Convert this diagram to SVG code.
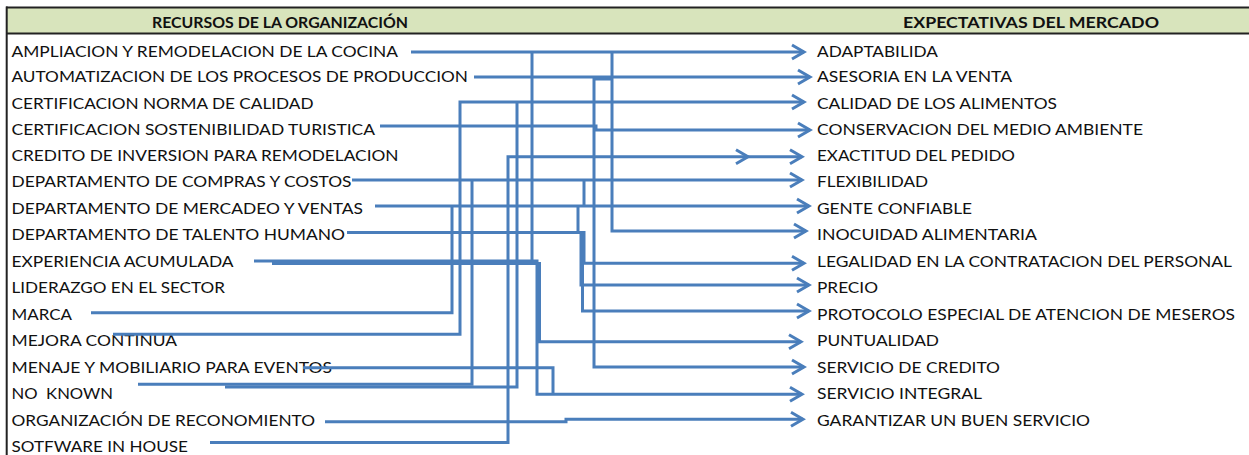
<svg xmlns="http://www.w3.org/2000/svg" width="1249" height="455" viewBox="0 0 1249 455">
  <defs>
    <style>
      .lbl { font-family: Lato, "Open Sans", "Liberation Sans", sans-serif; font-size: 16px; fill: #111; }
      .hdr { font-family: Lato, "Open Sans", "Liberation Sans", sans-serif; font-size: 16px; font-weight: bold; fill: #111; }
      .ln  { fill: none; stroke: #4A7EBB; stroke-width: 3; stroke-linejoin: miter; stroke-linecap: butt; }
      .to  { marker-end: url(#arr); }
    </style>
    <marker id="arr" markerUnits="userSpaceOnUse" markerWidth="24" markerHeight="24" viewBox="-18 -12 24 24" refX="0" refY="0" orient="auto" overflow="visible">
      <path d="M-12,-7 L0,0 L-12,7" fill="none" stroke="#4A7EBB" stroke-width="3"/>
    </marker>
  </defs>

  <rect width="1249" height="455" fill="#fff"/>

  <!-- header band -->
  <g id="header">
    <rect x="6.5" y="7.5" width="1243" height="26" fill="#D8E4BC"/>
    <line x1="6" y1="7.5" x2="1249" y2="7.5" stroke="#222" stroke-width="2"/>
    <line x1="6" y1="33.5" x2="1249" y2="33.5" stroke="#222" stroke-width="2"/>
    <line x1="6.7" y1="6.5" x2="6.7" y2="455" stroke="#222" stroke-width="2"/>
    <text class="hdr" x="152" y="28.3" textLength="256" lengthAdjust="spacingAndGlyphs">RECURSOS DE LA ORGANIZACIÓN</text>
    <text class="hdr" x="903" y="28.3" textLength="256" lengthAdjust="spacingAndGlyphs">EXPECTATIVAS DEL MERCADO</text>
  </g>

  <!-- organisation resources (left column) -->
  <g id="r-ampliacion"><text class="lbl" x="11.5" y="56.5" textLength="386.5" lengthAdjust="spacingAndGlyphs">AMPLIACION Y REMODELACION DE LA COCINA</text></g>
  <g id="r-automatizacion"><text class="lbl" x="11.5" y="82.3" textLength="456.5" lengthAdjust="spacingAndGlyphs">AUTOMATIZACION DE LOS PROCESOS DE PRODUCCION</text></g>
  <g id="r-cert-calidad"><text class="lbl" x="11.5" y="108.6" textLength="302" lengthAdjust="spacingAndGlyphs">CERTIFICACION NORMA DE CALIDAD</text></g>
  <g id="r-cert-sostenibilidad"><text class="lbl" x="11.5" y="135" textLength="363.5" lengthAdjust="spacingAndGlyphs">CERTIFICACION SOSTENIBILIDAD TURISTICA</text></g>
  <g id="r-credito"><text class="lbl" x="11.5" y="161.3" textLength="387" lengthAdjust="spacingAndGlyphs">CREDITO DE INVERSION PARA REMODELACION</text></g>
  <g id="r-compras"><text class="lbl" x="11.5" y="187.2" textLength="340" lengthAdjust="spacingAndGlyphs">DEPARTAMENTO DE COMPRAS Y COSTOS</text></g>
  <g id="r-mercadeo"><text class="lbl" x="11.5" y="213.6" textLength="351.5" lengthAdjust="spacingAndGlyphs">DEPARTAMENTO DE MERCADEO Y VENTAS</text></g>
  <g id="r-talento"><text class="lbl" x="11.5" y="240.2" textLength="333.5" lengthAdjust="spacingAndGlyphs">DEPARTAMENTO DE TALENTO HUMANO</text></g>
  <g id="r-experiencia"><text class="lbl" x="11.5" y="266.8" textLength="222" lengthAdjust="spacingAndGlyphs">EXPERIENCIA ACUMULADA</text></g>
  <g id="r-liderazgo"><text class="lbl" x="11.5" y="293.2" textLength="213.5" lengthAdjust="spacingAndGlyphs">LIDERAZGO EN EL SECTOR</text></g>
  <g id="r-marca"><text class="lbl" x="11.5" y="319.5" textLength="60.5" lengthAdjust="spacingAndGlyphs">MARCA</text></g>
  <g id="r-mejora"><text class="lbl" x="11.5" y="346" textLength="165.5" lengthAdjust="spacingAndGlyphs">MEJORA CONTINUA</text></g>
  <g id="r-menaje"><text class="lbl" x="11.5" y="372.6" textLength="320.5" lengthAdjust="spacingAndGlyphs">MENAJE Y MOBILIARIO PARA EVENTOS</text></g>
  <g id="r-noknown"><text class="lbl" x="11.5" y="399.2" textLength="101.5" lengthAdjust="spacingAndGlyphs" style="white-space:pre">NO  KNOWN</text></g>
  <g id="r-organizacion"><text class="lbl" x="11.5" y="425.8" textLength="303.5" lengthAdjust="spacingAndGlyphs">ORGANIZACIÓN DE RECONOMIENTO</text></g>
  <g id="r-software"><text class="lbl" x="11.5" y="452" textLength="176.5" lengthAdjust="spacingAndGlyphs">SOTFWARE IN HOUSE</text></g>

  <!-- market expectations (right column) -->
  <g id="e-adaptabilidad"><text class="lbl" x="817" y="56.5" textLength="121" lengthAdjust="spacingAndGlyphs">ADAPTABILIDA</text></g>
  <g id="e-asesoria"><text class="lbl" x="817" y="82.3" textLength="195" lengthAdjust="spacingAndGlyphs">ASESORIA EN LA VENTA</text></g>
  <g id="e-calidad"><text class="lbl" x="817" y="108.6" textLength="240" lengthAdjust="spacingAndGlyphs">CALIDAD DE LOS ALIMENTOS</text></g>
  <g id="e-conservacion"><text class="lbl" x="817" y="135" textLength="326" lengthAdjust="spacingAndGlyphs">CONSERVACION DEL MEDIO AMBIENTE</text></g>
  <g id="e-exactitud"><text class="lbl" x="817" y="161.3" textLength="198" lengthAdjust="spacingAndGlyphs">EXACTITUD DEL PEDIDO</text></g>
  <g id="e-flexibilidad"><text class="lbl" x="817" y="187.2" textLength="111" lengthAdjust="spacingAndGlyphs">FLEXIBILIDAD</text></g>
  <g id="e-gente"><text class="lbl" x="817" y="213.6" textLength="155" lengthAdjust="spacingAndGlyphs">GENTE CONFIABLE</text></g>
  <g id="e-inocuidad"><text class="lbl" x="817" y="240.2" textLength="220" lengthAdjust="spacingAndGlyphs">INOCUIDAD ALIMENTARIA</text></g>
  <g id="e-legalidad"><text class="lbl" x="817" y="266.8" textLength="415" lengthAdjust="spacingAndGlyphs">LEGALIDAD EN LA CONTRATACION DEL PERSONAL</text></g>
  <g id="e-precio"><text class="lbl" x="817" y="293.2" textLength="61" lengthAdjust="spacingAndGlyphs">PRECIO</text></g>
  <g id="e-protocolo"><text class="lbl" x="817" y="319.5" textLength="418" lengthAdjust="spacingAndGlyphs">PROTOCOLO ESPECIAL DE ATENCION DE MESEROS</text></g>
  <g id="e-puntualidad"><text class="lbl" x="817" y="346" textLength="122" lengthAdjust="spacingAndGlyphs">PUNTUALIDAD</text></g>
  <g id="e-credito"><text class="lbl" x="817" y="372.6" textLength="183" lengthAdjust="spacingAndGlyphs">SERVICIO DE CREDITO</text></g>
  <g id="e-integral"><text class="lbl" x="817" y="399.2" textLength="165" lengthAdjust="spacingAndGlyphs">SERVICIO INTEGRAL</text></g>
  <g id="e-garantizar"><text class="lbl" x="817" y="425.8" textLength="273" lengthAdjust="spacingAndGlyphs">GARANTIZAR UN BUEN SERVICIO</text></g>

  <!-- connectors -->
  <g id="connectors">
    <!-- ampliacion -->
    <path class="ln to" d="M411,52 H804"/>
    <path class="ln" d="M532,52 V261.5"/>
    <path class="ln to" d="M612,52 V231 H806"/>
    <!-- automatizacion -->
    <path class="ln to" d="M474,77 H810"/>
    <path class="ln to" d="M612,79 H594 V367 H804"/>
    <!-- certificacion sostenibilidad -->
    <path class="ln to" d="M380,126 H596 V130 H810"/>
    <!-- calidad: mejora continua and no known -->
    <path class="ln to" d="M113,334.3 H460 V102 H804"/>
    <path class="ln" d="M225,387 H517 V102"/>
    <!-- exactitud: software in house -->
    <path class="ln to" d="M210,442.5 H508 V156.7 H802"/>
    <path class="ln" d="M736,149.7 L748,156.7 L736,163.7"/>
    <!-- compras y costos -->
    <path class="ln to" d="M352,180 H802"/>
    <path class="ln" d="M472,180 V384.3 H138"/>
    <path class="ln" d="M584,180 V206"/>
    <!-- mercadeo y ventas -->
    <path class="ln to" d="M375,206 H809"/>
    <path class="ln" d="M452,206 V312.7 H91"/>
    <path class="ln" d="M578,206 V232.5"/>
    <!-- talento humano -->
    <path class="ln to" d="M347,232.5 H584 V263.3 H804"/>
    <path class="ln to" d="M581,232.5 V285 H809"/>
    <path class="ln to" d="M582.5,232.5 V311 H809"/>
    <!-- experiencia acumulada -->
    <path class="ln to" d="M254,261 H537 V394.3 H802"/>
    <path class="ln to" d="M272,263.5 H539.5 V341.7 H801"/>
    <!-- menaje y mobiliario -->
    <path class="ln" d="M303,367.7 H553 V394.3"/>
    <!-- organizacion de reconocimiento -->
    <path class="ln to" d="M325,421.7 H566 V419.3 H803"/>
  </g>
</svg>
